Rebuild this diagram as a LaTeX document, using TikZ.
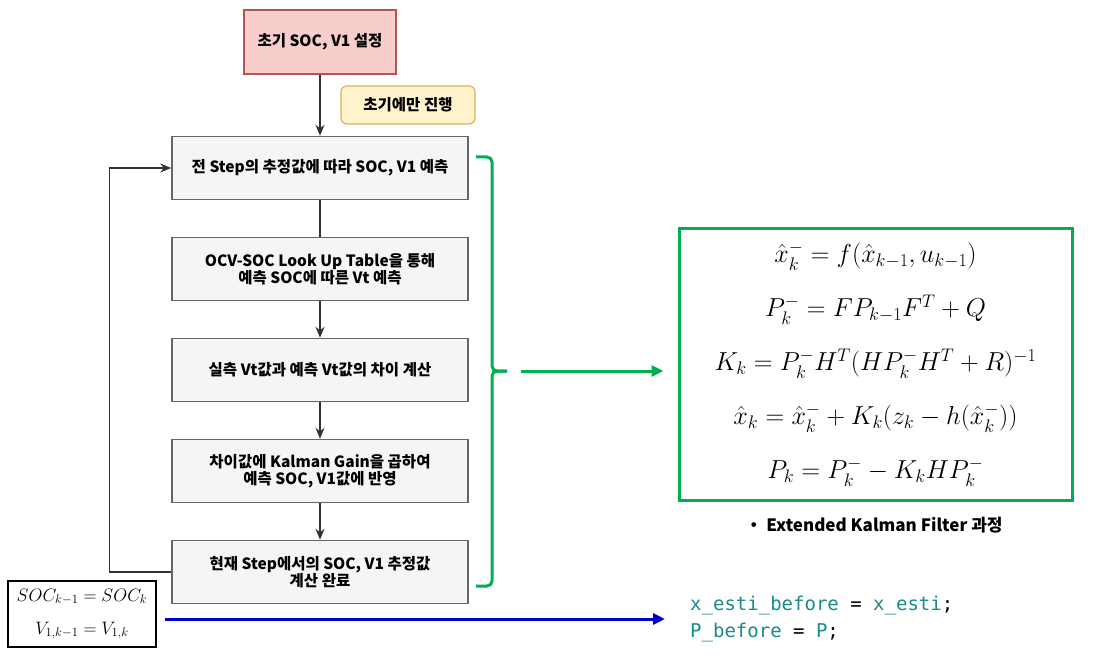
\documentclass[tikz,border=0pt]{standalone}
\usepackage{fix-cm}
\usepackage{amsmath}
\usepackage{fontspec}
\newfontfamily\krfont{Noto Sans CJK KR}
\newfontfamily\codefont{DejaVu Sans Mono}
\usetikzlibrary{arrows.meta, positioning}
\definecolor{initfill}{HTML}{F8CECC}
\definecolor{initline}{HTML}{B85450}
\definecolor{notefill}{HTML}{FFF2CC}
\definecolor{noteline}{HTML}{D6B656}
\definecolor{stepfill}{HTML}{F5F5F5}
\definecolor{stepline}{HTML}{666666}
\definecolor{flowgray}{HTML}{333333}
\definecolor{ekfgreen}{HTML}{00B050}
\definecolor{copyblue}{HTML}{0000CC}
\definecolor{codeteal}{HTML}{1A8A8A}

\begin{document}
\begin{tikzpicture}[x=1pt, y=-1pt,
    krtext/.style={font=\krfont\bfseries\fontsize{15.5}{17.5}\selectfont},
    stepbox/.style={krtext, draw=stepline, fill=stepfill, line width=1.5pt,
      minimum width=296pt, minimum height=63pt, align=center},
    initbox/.style={krtext, draw=initline, fill=initfill, line width=1.5pt,
      minimum width=152pt, minimum height=64pt},
    notebox/.style={krtext, draw=noteline, fill=notefill, line width=1.2pt,
      rounded corners=6pt, minimum width=134pt, minimum height=38pt},
    flow/.style={flowgray, line width=1.3pt, -{Stealth[length=11pt, width=9pt]}},
    brace/.style={ekfgreen, line width=3pt, rounded corners=5pt},
    bigarrow/.style={line width=3pt, -{Triangle[length=12pt, width=11pt]}}]
    \useasboundingbox (0,0) rectangle (1097,671);

    % --- flow chart ---
    \node[initbox] (init) at (320,42) {초기 SOC, V1 설정};
    \node[notebox] (note) at (408,105) {초기에만 진행};
    \node[stepbox] (predict) at (320,168) {전 Step의 추정값에 따라 SOC, V1 예측};
    \node[stepbox, below=36.5pt of predict] (lookup) {OCV-SOC Look Up Table을 통해\\예측 SOC에 따른 Vt 예측};
    \node[stepbox, below=36.5pt of lookup] (diff) {실측 Vt값과 예측 Vt값의 차이 계산};
    \node[stepbox, below=36.5pt of diff] (gain) {차이값에 Kalman Gain을 곱하여\\예측 SOC, V1값에 반영};
    \node[stepbox, below=36.5pt of gain] (update) {현재 Step에서의 SOC, V1 추정값\\계산 완료};

    \draw[flow] (init) -- (predict);
    \draw[flowgray, line width=1.3pt] (predict) -- (lookup);
    \draw[flow] (lookup) -- (diff);
    \draw[flow] (diff) -- (gain);
    \draw[flow] (gain) -- (update);
    \draw[flow] (update.west) -- ++(-62,0) |- (predict.west);

    % --- green brace to the EKF equations ---
    \coordinate (bracetip) at (507,371);
    \draw[brace] (476,157) -- (492,157) -- (492,371) -- (bracetip);
    \draw[brace] (bracetip) -- (492,371) -- (492,586) -- (476,586);

    \node[draw=ekfgreen, line width=3pt, minimum width=393pt, minimum height=272pt,
      align=center, font=\fontsize{26}{54}\selectfont] (ekf) at (875.5,364)
      {$\hat{x}_k^- = f(\hat{x}_{k-1}, u_{k-1})$\\
       $P_k^- = FP_{k-1}F^T + Q$\\
       $K_k = P_k^- H^T (HP_k^- H^T + R)^{-1}$\\
       $\hat{x}_k = \hat{x}_k^- + K_k(z_k - h(\hat{x}_k^-))$\\
       $P_k = P_k^- - K_k H P_k^-$};
    \node[font=\krfont\bfseries\fontsize{17}{20}\selectfont] (ekfcap) at (874,525)
      {・ Extended Kalman Filter 과정};
    \draw[bigarrow, ekfgreen, shorten >=14pt] ([xshift=14pt]bracetip) -- (ekf.west |- bracetip);

    % --- copy estimates for next step ---
    \node[draw, line width=1.5pt, minimum width=148pt, minimum height=66pt, align=center,
      font=\fontsize{18}{33}\selectfont] (socbox) at (82,614)
      {$SOC_{k-1} = SOC_k$\\ $V_{1,k-1} = V_{1,k}$};
    \node[anchor=west, inner sep=0pt, align=left, font=\codefont\fontsize{19}{27}\selectfont]
      (code) at (690,619)
      {{\color{codeteal}x\_esti\_before} = {\color{codeteal}x\_esti};\\
       {\color{codeteal}P\_before} = {\color{codeteal}P};};
    \coordinate (copystart) at (165,619);
    \draw[bigarrow, copyblue] (copystart) -- ([xshift=-25pt]code.west);
\end{tikzpicture}
\end{document}
